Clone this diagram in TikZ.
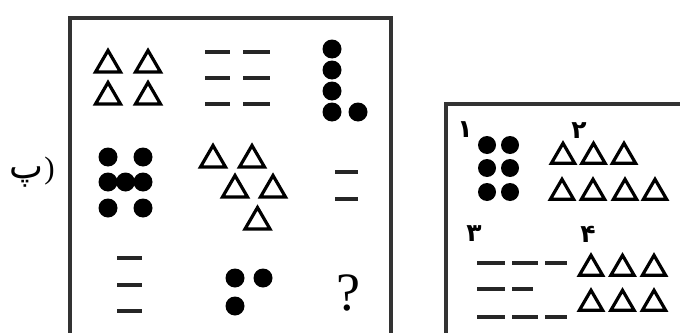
\documentclass[tikz,border=0pt]{standalone}
\usepackage{fontspec}
\setmainfont{Liberation Serif}
\newfontfamily\arabicfont[Script=Arabic]{DejaVu Sans}
\TeXXeTstate=1
\tikzset{
  x=1pt, y=-1pt,
  frame/.style={draw=black!80, line width=3.4pt},
  tri/.pic={\draw[line width=3.2pt, line join=miter] (-12.5,10.5) -- (12.5,10.5) -- (0,-11) -- cycle;},
  dashline/.style={line width=3.6pt, black!85},
  dot/.style={fill=black, draw=none},
  digit/.style={font=\arabicfont\bfseries\fontsize{25}{25}\selectfont, inner sep=0pt},
}
\newcommand{\mydash}[3]{\draw[dashline] (#1,#3) -- (#2,#3);}
\newcommand{\mydot}[2]{\fill[dot] (#1,#2) circle (9.5);}
\newcommand{\smdot}[2]{\fill[dot] (#1,#2) circle (9);}
\begin{document}
\begin{tikzpicture}
\useasboundingbox (0,0) rectangle (680,332);
% frames
\draw[frame] (70,345) -- (70,18) -- (391,18) -- (391,345);
\draw[frame] (446,345) -- (446,104) -- (690,104);
% label
\node[inner sep=0pt] (lbl) at (32,172) {{\arabicfont\fontsize{36}{36}\selectfont\beginR پ\endR}\hspace{1pt}{\fontsize{31}{31}\selectfont)}};
% cell 1: four triangles
\pic at (108,61.5) {tri}; \pic at (148,61.5) {tri};
\pic at (108,93.5) {tri}; \pic at (148,93.5) {tri};
% cell 2: six dashes
\mydash{205}{230}{52} \mydash{243}{270}{52}
\mydash{205}{230}{78} \mydash{243}{270}{78}
\mydash{205}{230}{104} \mydash{243}{270}{104}
% cell 3: five dots
\mydot{332}{49} \mydot{332}{70} \mydot{332}{91} \mydot{332}{112} \mydot{358}{112}
% cell 4: seven dots
\mydot{108}{157} \mydot{143}{157}
\mydot{108}{182} \mydot{125.5}{182} \mydot{143}{182}
\mydot{108}{208} \mydot{143}{208}
% cell 5: five triangles
\pic at (213,156.5) {tri}; \pic at (252,156.5) {tri};
\pic at (235,186.5) {tri}; \pic at (273,186.5) {tri};
\pic at (257.5,218.5) {tri};
% cell 6: two dashes
\mydash{335}{358}{172} \mydash{335}{358}{199}
% cell 7: three dashes
\mydash{117}{142}{258} \mydash{117}{142}{285} \mydash{117}{142}{311}
% cell 8: three dots
\mydot{235}{278} \mydot{263}{278} \mydot{235}{306}
% cell 9
\node[inner sep=0pt, font=\fontsize{54}{54}\selectfont] (q) at (348,293) {?};
% right box
\node[digit] (n1) at (465,130) {\beginR ۱\endR};
\node[digit] (n2) at (579,131) {\beginR ۲\endR};
\node[digit] (n3) at (474,234) {\beginR ۳\endR};
\node[digit] (n4) at (588,234) {\beginR ۴\endR};
\smdot{487}{145} \smdot{510}{145}
\smdot{487}{168} \smdot{510}{168}
\smdot{487}{192} \smdot{510}{192}
\pic[scale=0.93] at (563,153.5) {tri}; \pic[scale=0.93] at (593.5,153.5) {tri}; \pic[scale=0.93] at (624,153.5) {tri};
\pic[scale=0.93] at (562,189.5) {tri}; \pic[scale=0.93] at (593,189.5) {tri}; \pic[scale=0.93] at (625,189.5) {tri}; \pic[scale=0.93] at (655,189.5) {tri};
\mydash{477}{505}{263} \mydash{512}{538}{263} \mydash{545}{567}{263}
\mydash{477}{505}{289} \mydash{512}{533}{289}
\mydash{477}{505}{317} \mydash{512}{538}{317} \mydash{545}{567}{317}
\pic[scale=0.93] at (591,265.5) {tri}; \pic[scale=0.93] at (622.5,265.5) {tri}; \pic[scale=0.93] at (654,265.5) {tri};
\pic[scale=0.93] at (591,300.5) {tri}; \pic[scale=0.93] at (622.5,300.5) {tri}; \pic[scale=0.93] at (654,300.5) {tri};
\end{tikzpicture}
\end{document}
